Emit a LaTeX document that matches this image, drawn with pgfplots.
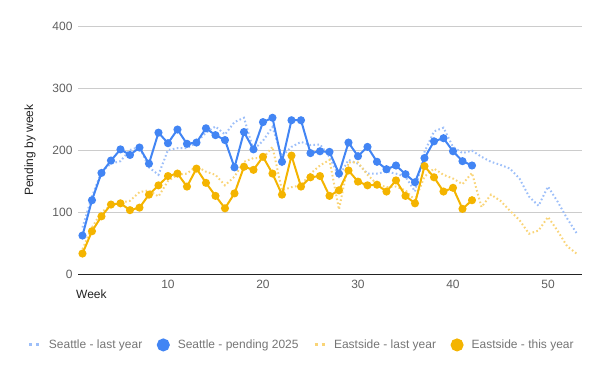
\documentclass[border=0pt]{standalone}
\usepackage{fontspec}
\setmainfont{Liberation Sans}
\usepackage{pgfplots}
\pgfplotsset{compat=1.18}
\definecolor{sblue}{HTML}{4285F4}
\definecolor{sorange}{HTML}{F4B400}
\definecolor{lblue}{HTML}{9DBFF9}
\definecolor{lorange}{HTML}{F9D477}
\definecolor{gridc}{HTML}{CCCCCC}
\definecolor{ticktxt}{HTML}{5F5F5F}
\definecolor{titletxt}{HTML}{222222}
\definecolor{legtxt}{HTML}{757575}
\begin{document}
\begin{tikzpicture}[x=1bp,y=1bp]
\useasboundingbox (0,0) rectangle (600,371);
\begin{axis}[
  at={(78bp,97bp)}, anchor=south west,
  width=504bp, height=248bp, scale only axis,
  xmin=0.53, xmax=53.58, ymin=0, ymax=400,
  axis x line*=bottom, axis y line*=left,
  y axis line style={draw=none},
  x axis line style={draw=titletxt, line width=1bp},
  ytick={0,100,200,300,400},
  xtick={10,20,30,40,50},
  major tick length=0pt,
  ymajorgrids, grid style={gridc, line width=0.8bp},
  /pgf/number format/assume math mode=true,
  tick label style={font=\fontsize{12bp}{14bp}\selectfont, text=ticktxt},
  yticklabel style={xshift=-2bp},
  xticklabel style={yshift=-3bp},
  ylabel={Pending by week},
  ylabel style={at={(axis description cs:-0.095,0.5)}, anchor=center, font=\fontsize{12bp}{14bp}\selectfont, text=titletxt},
  xlabel={Week},
  xlabel style={at={(axis description cs:0,0)}, anchor=north west, inner sep=0pt, yshift=-16bp, xshift=-2bp, font=\fontsize{12bp}{14bp}\selectfont, text=titletxt},
  legend columns=4,
  legend cell align=left,
  legend style={at={(axis description cs:0.444,-0.286)}, anchor=center, draw=none, fill=none,
    font=\fontsize{12bp}{14bp}\selectfont, text=legtxt,
    /tikz/every odd column/.append style={column sep=6bp},
    /tikz/every even column/.append style={column sep=12.5bp}},
]
\addplot[lblue, line width=2bp, dash pattern=on 1.6bp off 2.4bp,
  legend image code/.code={\draw[lblue, line width=3bp, dash pattern=on 3bp off 4bp] (0bp,0bp) -- (10bp,0bp);}]
  coordinates {(1,75)(2,125)(3,165)(4,178)(5,182)(6,200)(7,205)(8,172)(9,160)(10,200)
  (11,203)(12,203)(13,212)(14,228)(15,238)(16,225)(17,245)(18,252)(19,200)(20,215)
  (21,237)(22,190)(23,205)(24,213)(25,208)(26,209)(27,189)(28,157)(29,184)(30,178)
  (31,162)(32,162)(33,165)(34,162)(35,157)(36,133)(37,197)(38,230)(39,236)(40,205)
  (41,195)(42,199)(43,189)(44,181)(45,176)(46,170)(47,154)(48,125)(49,110)(50,141)
  (51,117)(52,90)(53,66)};
\addlegendentry{Seattle - last year}
\addplot[sblue, line width=2bp, mark=*, mark size=3bp, mark options={draw=none, fill=sblue},
  legend image code/.code={\fill[sblue] (5.5bp,0bp) circle (5.5bp);}]
  coordinates {(1,62)(2,119)(3,163)(4,183)(5,201)(6,192)(7,204)(8,178)(9,228)(10,211)
  (11,233)(12,210)(13,212)(14,235)(15,224)(16,216)(17,172)(18,229)(19,201)(20,245)
  (21,252)(22,181)(23,248)(24,248)(25,195)(26,198)(27,197)(28,162)(29,212)(30,190)
  (31,205)(32,181)(33,169)(34,175)(35,161)(36,148)(37,187)(38,214)(39,219)(40,198)
  (41,182)(42,175)};
\addlegendentry{Seattle - pending 2025}
\addplot[lorange, line width=2bp, dash pattern=on 1.6bp off 2.4bp,
  legend image code/.code={\draw[lorange, line width=3bp, dash pattern=on 3bp off 4bp] (0bp,0bp) -- (10bp,0bp);}]
  coordinates {(1,40)(2,75)(3,100)(4,110)(5,115)(6,118)(7,132)(8,135)(9,125)(10,150)
  (11,160)(12,162)(13,174)(14,165)(15,160)(16,143)(17,157)(18,181)(19,187)(20,187)
  (21,205)(22,135)(23,140)(24,143)(25,162)(26,175)(27,184)(28,104)(29,180)(30,180)
  (31,160)(32,145)(33,140)(34,141)(35,135)(36,119)(37,157)(38,170)(39,160)(40,154)
  (41,145)(42,163)(43,108)(44,128)(45,118)(46,102)(47,87)(48,65)(49,70)(50,92)
  (51,70)(52,45)(53,33)};
\addlegendentry{Eastside - last year}
\addplot[sorange, line width=2bp, mark=*, mark size=3bp, mark options={draw=none, fill=sorange},
  legend image code/.code={\fill[sorange] (5.5bp,0bp) circle (5.5bp);}]
  coordinates {(1,33)(2,69)(3,93)(4,112)(5,114)(6,103)(7,107)(8,128)(9,143)(10,158)
  (11,162)(12,141)(13,170)(14,147)(15,126)(16,106)(17,130)(18,173)(19,168)(20,189)
  (21,162)(22,128)(23,191)(24,141)(25,156)(26,158)(27,126)(28,135)(29,167)(30,149)
  (31,143)(32,144)(33,133)(34,151)(35,126)(36,114)(37,174)(38,156)(39,133)(40,139)
  (41,105)(42,119)};
\addlegendentry{Eastside - this year}
\end{axis}
\end{tikzpicture}
\end{document}
